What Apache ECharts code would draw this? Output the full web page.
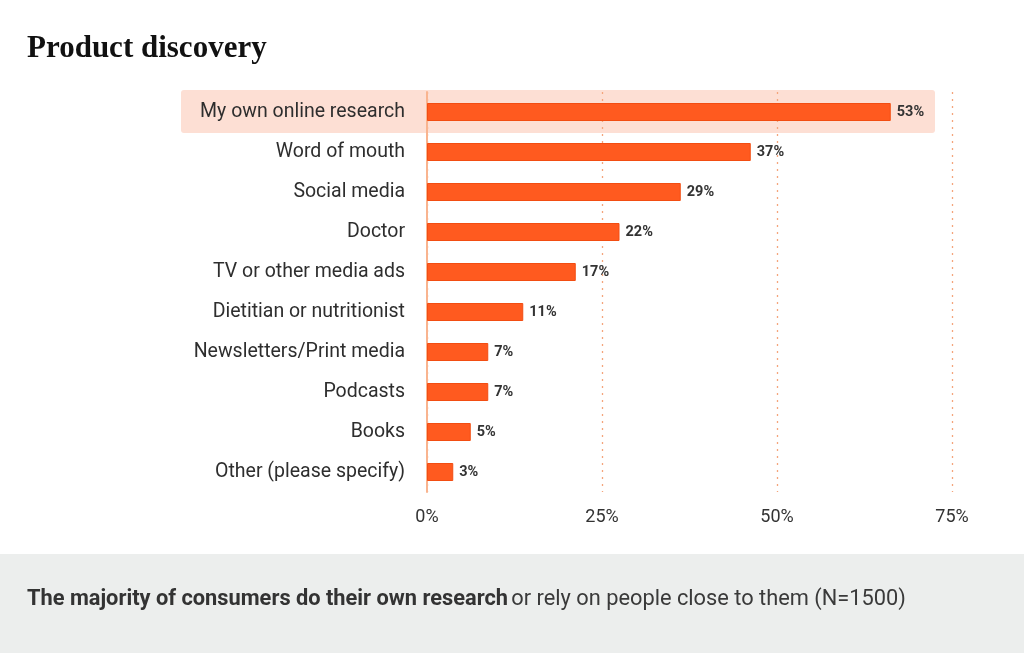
<!DOCTYPE html>
<html>
<head>
<meta charset="utf-8">
<script src="https://cdn.jsdelivr.net/npm/echarts@6/dist/echarts.min.js"></script>
<style>
html,body{margin:0;padding:0;background:#fff;}
#c{width:1024px;height:653px;}
</style>
</head>
<body>
<div id="c"></div>
<script>
const categories = ['My own online research','Word of mouth','Social media','Doctor','TV or other media ads','Dietitian or nutritionist','Newsletters/Print media','Podcasts','Books','Other (please specify)'];
const values = [53,37,29,22,17,11,7,7,5,3];
const tickLabels = ['0%','25%','50%','75%'];
const highlightIndex = 0;

const chart = echarts.init(document.getElementById('c'));
const option = {
  animation:false,
  backgroundColor:'#ffffff',
  title:{
    text:'Product discovery',
    left:22, top:28,
    textStyle:{fontFamily:'Liberation Serif', fontWeight:'bold', fontSize:31, color:'#111'}
  },
  grid:{left:427, right:72, top:92, height:400, containLabel:false},
  xAxis:{
    type:'value', min:0, max:60, interval:20,
    axisLine:{show:false}, axisTick:{show:false},
    splitLine:{show:true, lineStyle:{type:[2,5], color:'#f4a57c', width:1.3}},
    axisLabel:{
      margin:16, color:'#333', fontFamily:'Roboto', fontSize:18,
      formatter:(v)=>tickLabels[Math.round(v/20)]
    }
  },
  yAxis:{
    type:'category', data:categories, inverse:true,
    axisLine:{show:true, lineStyle:{color:'#f9b48f', width:2}},
    axisTick:{show:false},
    axisLabel:{margin:22, color:'#2e2e2e', fontFamily:'Roboto', fontSize:19.5}
  },
  series:[{
    type:'bar', data:values, barWidth:18, z:3,
    itemStyle:{color:'#ff5a1f', borderColor:'#f24d12', borderWidth:1},
    label:{show:true, position:'right', distance:6, formatter:'{c}%', color:'#333', fontFamily:'Roboto', fontWeight:'bold', fontSize:14.5}
  }]
};
chart.setOption(option);

function drawExtras(){
  const yc = chart.convertToPixel({yAxisIndex:0}, categories[highlightIndex]);
  chart.setOption({
    graphic:[
      {type:'rect', z:-10, silent:true, shape:{x:181, y:yc-22, width:754, height:43, r:3}, style:{fill:'#fddfd4'}},
      {type:'rect', z:-10, silent:true, shape:{x:0, y:554, width:1024, height:99}, style:{fill:'#eceeed'}},
      {type:'text', left:27, top:589, silent:true, style:{
        rich:{
          b:{fontFamily:'Roboto', fontWeight:'bold', fontSize:21.8, fill:'#333'},
          n:{fontFamily:'Roboto', fontSize:21.8, fill:'#3a3a3a'}
        },
        text:'{b|The majority of consumers do their own research} {n|or rely on people close to them (N=1500)}'
      }}
    ]
  });
}
drawExtras();
</script>
</body>
</html>
